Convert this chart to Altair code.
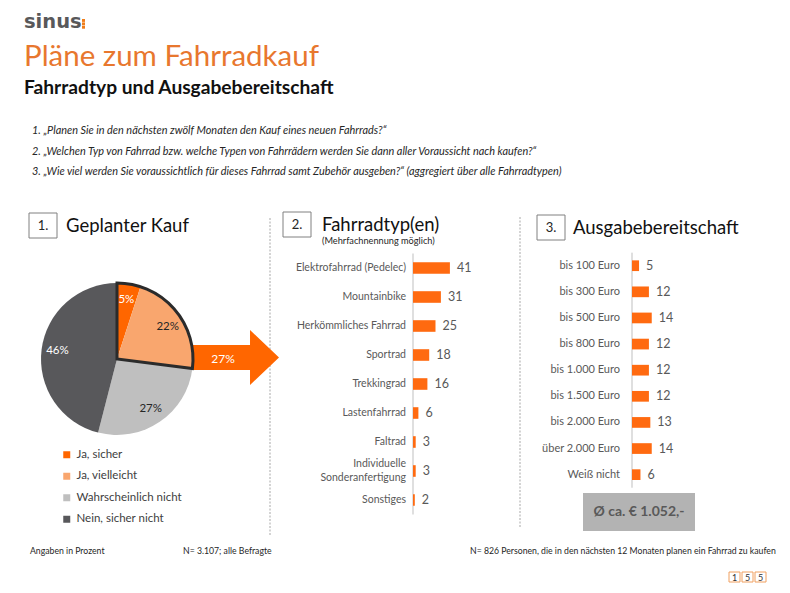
import altair as alt
import pandas as pd

FONT = "Lato"
ORANGE = "#FF6A10"
TITLE_ORANGE = "#E8772E"
DARK = "#262626"
GRAY_TXT = "#595959"

# ---------------- data ----------------
pie_cats = ["Ja, sicher", "Ja, vielleicht", "Wahrscheinlich nicht", "Nein, sicher nicht"]
pie_vals = [5, 22, 27, 46]
pie_colors = ["#FF6600", "#F9A66E", "#BFBFBF", "#58585B"]
pie_label_colors = ["#FFFFFF", "#262626", "#262626", "#FFFFFF"]

type_cats = ["Elektrofahrrad (Pedelec)", "Mountainbike", "Herkömmliches Fahrrad", "Sportrad",
             "Trekkingrad", "Lastenfahrrad", "Faltrad", "Individuelle\nSonderanfertigung", "Sonstiges"]
type_vals = [41, 31, 25, 18, 16, 6, 3, 3, 2]

spend_cats = ["bis 100 Euro", "bis 300 Euro", "bis 500 Euro", "bis 800 Euro", "bis 1.000 Euro",
              "bis 1.500 Euro", "bis 2.000 Euro", "über 2.000 Euro", "Weiß nicht"]
spend_vals = [5, 12, 14, 12, 12, 12, 13, 14, 6]

questions = [
    "1. \u201ePlanen Sie in den nächsten zwölf Monaten den Kauf eines neuen Fahrrads?\u201c",
    "2. \u201eWelchen Typ von Fahrrad bzw. welche Typen von Fahrrädern werden Sie dann aller Voraussicht nach kaufen?\u201c",
    "3. \u201eWie viel werden Sie voraussichtlich für dieses Fahrrad samt Zubehör ausgeben?\u201c (aggregiert über alle Fahrradtypen)",
]
footer = ["Angaben in Prozent", "N= 3.107; alle Befragte",
          "N= 826 Personen, die in den nächsten 12 Monaten planen ein Fahrrad zu kaufen"]
avg_text = "Ø ca. € 1.052,-"
page_digits = ["1", "5", "5"]

one = pd.DataFrame({"d": [0]})


def txt(s, x, y, size, color=DARK, weight="normal", align="left", baseline="middle",
        style="normal", font=FONT):
    return alt.Chart(one).mark_text(
        text=s, align=align, baseline=baseline, fontSize=size, font=font,
        fontWeight=weight, fontStyle=style, color=color
    ).encode(x=alt.value(x), y=alt.value(y))


def rect(x, y, x2, y2, fill, stroke=None, sw=1.0):
    kw = dict(fill=fill)
    if stroke:
        kw.update(stroke=stroke, strokeWidth=sw)
    return alt.Chart(one).mark_rect(**kw).encode(
        x=alt.value(x), x2=alt.value(x2), y=alt.value(y), y2=alt.value(y2))


def vrule(x, y, y2, color, dash=None, sw=1.0):
    kw = dict(color=color, strokeWidth=sw)
    if dash:
        kw["strokeDash"] = dash
    return alt.Chart(one).mark_rule(**kw).encode(
        x=alt.value(x), y=alt.value(y), y2=alt.value(y2))


layers = []

# ---------------- header ----------------
layers.append(txt("sinus", 16, 20, 19.5, color="#58585A", weight="bold", baseline="alphabetic",
                  font="DejaVu Sans"))
for i in range(3):
    layers.append(rect(74, 11 + i * 3.4, 77, 13.9 + i * 3.4, "#F07D1A"))
layers.append(txt("Pläne zum Fahrradkauf", 16, 58, 29.5, color=TITLE_ORANGE, baseline="alphabetic"))
layers.append(txt("Fahrradtyp und Ausgabebereitschaft", 16, 86, 19.2, color="#111111",
                  weight="bold", baseline="alphabetic"))
for i, q in enumerate(questions):
    layers.append(txt(q, 24, 123 + i * 20.5, 10.9, color=DARK, style="italic"))

# ---------------- separators ----------------
layers.append(vrule(262, 210, 527, "#A8A8A8", dash=[2, 1.5]))
layers.append(vrule(512, 209, 520, "#A8A8A8", dash=[2, 1.5]))

# ---------------- section headings ----------------
for (bx, by, num, tx, title) in [(21, 205, "1.", 58, "Geplanter Kauf"),
                                 (275, 204, "2.", 314, "Fahrradtyp(en)"),
                                 (529, 207, "3.", 565, "Ausgabebereitschaft")]:
    layers.append(rect(bx, by, bx + 28, by + 25, "#FFFFFF", stroke="#808080", sw=1))
    layers.append(txt(num, bx + 14, by + 13, 13, align="center"))
    layers.append(txt(title, tx, by + 13, 18.5, color="#111111"))
layers.append(txt("(Mehrfachnennung möglich)", 314, 233, 9.2, color=DARK))

# ---------------- arrow ----------------
arrow_path = "M-1,-0.29L0.326,-0.29L0.326,-0.64L1,0L0.326,0.64L0.326,0.29L-1,0.29Z"
layers.append(alt.Chart(one).mark_point(shape=arrow_path, size=86 * 86, filled=True,
                                        fill="#FF6600", opacity=1, strokeWidth=0)
              .encode(x=alt.value(228), y=alt.value(349.5)))

# ---------------- pie ----------------
PX, PY, R = 109, 351, 76
pie_df = pd.DataFrame({"cat": pie_cats, "v": pie_vals, "o": list(range(len(pie_cats)))})
theta = alt.Theta("v:Q", stack=True)
layers.append(alt.Chart(pie_df).mark_arc(radius=R).encode(
    theta=theta, order=alt.Order("o:Q"),
    color=alt.Color("cat:N", scale=alt.Scale(domain=pie_cats, range=pie_colors),
                    legend=alt.Legend(orient="none", legendX=53, legendY=441, title=None,
                                      symbolType="square", symbolSize=49, symbolStrokeWidth=0,
                                      labelFont=FONT, labelFontSize=11.5, labelColor="#404040",
                                      rowPadding=8.5, padding=0, labelOffset=4)),
    x=alt.value(PX), y=alt.value(PY)))

# outline around the "Ja" share (sum of the two first answers)
yes_share = sum(pie_vals[:2])
outline_df = pd.DataFrame({"g": ["Ja", "Nein"], "v": [yes_share, sum(pie_vals) - yes_share], "o": [0, 1]})
layers.append(alt.Chart(outline_df).mark_arc(radius=R, fillOpacity=0, strokeWidth=3,
                                             strokeJoin="miter").encode(
    theta=theta, order=alt.Order("o:Q"),
    stroke=alt.condition("datum.g === 'Ja'", alt.value("#2B2B2B"), alt.value("transparent")),
    x=alt.value(PX), y=alt.value(PY)))

layers.append(alt.Chart(pie_df).transform_calculate(lbl="datum.v + '%'").mark_text(
    radius=60, fontSize=11.5, font=FONT).encode(
    theta=theta, order=alt.Order("o:Q"), text="lbl:N",
    color=alt.Color("cat:N", scale=alt.Scale(domain=pie_cats, range=pie_label_colors), legend=None),
    x=alt.value(PX), y=alt.value(PY)))

# arrow label = share of planned purchases
layers.append(txt(f"{yes_share}%", 215, 351, 12, color="#FFFFFF", align="center"))


# ---------------- bar panels ----------------
def bar_panel(cats, vals, x0, ppu, y0, step, label_x, label_size, val_size, pad=0.6):
    n = len(cats)
    df = pd.DataFrame({"cat": cats, "v": vals})
    xs = alt.Scale(domain=[0, 100], range=[x0, x0 + 100 * ppu])
    ys = alt.Scale(domain=cats, range=[y0, y0 + step * n], paddingInner=pad, paddingOuter=pad / 2)
    X = alt.X("v:Q", scale=xs, axis=None)
    Y = alt.Y("cat:N", scale=ys, axis=None)
    lab = dict(align="right", baseline="middle", lineBreak="\n", fontSize=label_size,
               font=FONT, color=GRAY_TXT, lineHeight=14)
    multi = "indexof(datum.cat, '\\n') >= 0"
    out = [
        vrule(x0, y0, y0 + step * n, "#BFBFBF"),
        alt.Chart(df).mark_bar(color=ORANGE).encode(x=X, y=Y),
        alt.Chart(df).transform_filter("!(" + multi + ")").mark_text(**lab)
        .encode(x=alt.value(label_x), y=Y, text="cat:N"),
        alt.Chart(df).transform_filter(multi).mark_text(dy=-7, **lab)
        .encode(x=alt.value(label_x), y=Y, text="cat:N"),
        alt.Chart(df).mark_text(align="left", baseline="middle", dx=7,
                                fontSize=val_size, font=FONT, color=GRAY_TXT)
        .encode(x=X, y=Y, text="v:Q"),
    ]
    return out


layers += bar_panel(type_cats, type_vals, 405, 0.9, 245.5, 29.0, 398, 10.5, 12.5)
layers += bar_panel(spend_cats, spend_vals, 624, 1.41, 244.65, 26.12, 612, 11, 12.5, pad=0.59)

# average box
layers.append(rect(575, 485, 687, 523, "#B3B3B3"))
layers.append(txt(avg_text, 631, 504, 14, color=GRAY_TXT, weight="bold", align="center"))

# ---------------- footer ----------------
for s, x in zip(footer, [22, 175, 462]):
    layers.append(txt(s, x, 543, 8.7, color=DARK))
for i, d in enumerate(page_digits):
    bx = 721 + i * 13
    layers.append(rect(bx, 564, bx + 11, 574, "#FFFFFF", stroke="#F0A060", sw=1))
    layers.append(txt(d, bx + 5.5, 569.5, 9, color="#333333", align="center"))

chart = alt.layer(*layers).resolve_scale(
    x="independent", y="independent", theta="independent", color="independent"
).properties(
    width=774, height=577, padding=0, autosize=alt.AutoSizeParams(type="none")
).configure_view(strokeWidth=0)

chart.save("out.html", embed_options={"renderer": "svg", "actions": False})
